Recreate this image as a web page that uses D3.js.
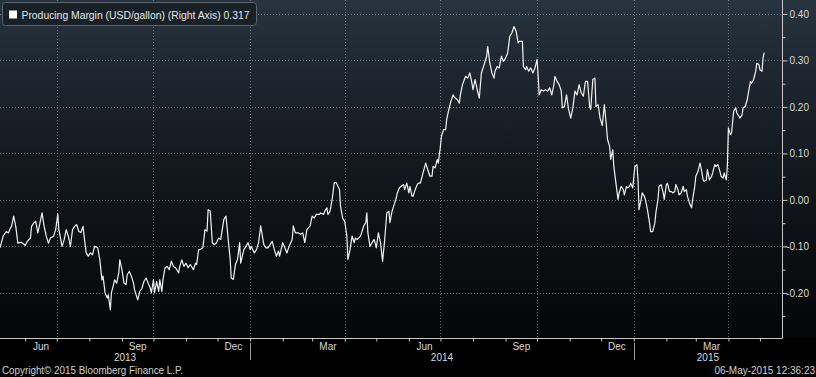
<!DOCTYPE html>
<html><head><meta charset="utf-8">
<script src="https://cdn.jsdelivr.net/npm/d3@7"></script>
<style>
html,body{margin:0;padding:0;background:#000;}
svg{display:block;}
text{font-family:"Liberation Sans",Arial,sans-serif;}
</style></head><body>
<svg id="chart" width="816" height="377"></svg>
<script>
// ---------- DATA ----------
const seriesName = "Producing Margin (USD/gallon) (Right Axis)";
const lastValueLabel = "0.317";
const copyrightText = "Copyright\u00A9 2015 Bloomberg Finance L.P.";
const stampText = "06-May-2015 12:36:23";
const startDate = "2013-05-08";          // day offsets below count from this date
const domainStart = "2013-05-08";
const domainEnd = "2015-05-22";

// [day offset from startDate, value USD/gallon]
const margin2013 = [[0,-0.103],[3,-0.078],[6,-0.068],[8,-0.071],[10,-0.060],[11,-0.057],[13,-0.035],[15,-0.057],[17,-0.093],[20,-0.091],[22,-0.094],[24,-0.098],[26,-0.089],[29,-0.082],[30,-0.057],[32,-0.050],[34,-0.046],[36,-0.071],[38,-0.050],[40,-0.028],[42,-0.057],[44,-0.078],[46,-0.093],[48,-0.082],[51,-0.078],[53,-0.064],[55,-0.030],[56,-0.064],[59,-0.100],[61,-0.086],[63,-0.064],[65,-0.078],[67,-0.100],[69,-0.064],[71,-0.057],[73,-0.053],[75,-0.068],[77,-0.070],[79,-0.057],[80,-0.078],[82,-0.114],[84,-0.121],[86,-0.114],[88,-0.118],[90,-0.100],[93,-0.103],[95,-0.129],[97,-0.172],[98,-0.164],[100,-0.200],[102,-0.211],[103,-0.204],[105,-0.236],[106,-0.200],[108,-0.182],[109,-0.172],[111,-0.179],[113,-0.157],[114,-0.129],[116,-0.150],[118,-0.179],[120,-0.182],[121,-0.161],[123,-0.154],[125,-0.164],[127,-0.179],[128,-0.193],[131,-0.215],[133,-0.197],[135,-0.190],[137,-0.175],[139,-0.168],[141,-0.179],[143,-0.190],[144,-0.200],[146,-0.172],[147,-0.200],[149,-0.175],[151,-0.197],[152,-0.172],[154,-0.197],[155,-0.172],[157,-0.146],[159,-0.143],[161,-0.150],[163,-0.132],[165,-0.143],[167,-0.146],[170,-0.157],[171,-0.143],[173,-0.129],[175,-0.143],[177,-0.136],[179,-0.146],[181,-0.139],[184,-0.150],[186,-0.136],[187,-0.139],[189,-0.107]];
const margin2014H1 = [[190,-0.107],[193,-0.103],[195,-0.064],[197,-0.067],[198,-0.021],[200,-0.024],[202,-0.092],[204,-0.096],[206,-0.092],[208,-0.082],[210,-0.085],[213,-0.042],[215,-0.035],[217,-0.082],[219,-0.128],[220,-0.168],[222,-0.171],[224,-0.139],[226,-0.128],[228,-0.092],[229,-0.136],[232,-0.107],[234,-0.100],[236,-0.092],[238,-0.107],[239,-0.100],[242,-0.114],[244,-0.107],[246,-0.092],[248,-0.056],[251,-0.096],[253,-0.103],[255,-0.103],[257,-0.096],[259,-0.089],[261,-0.107],[263,-0.121],[265,-0.110],[266,-0.121],[269,-0.092],[271,-0.103],[273,-0.114],[275,-0.100],[278,-0.085],[279,-0.056],[281,-0.071],[284,-0.071],[286,-0.074],[288,-0.071],[290,-0.092],[292,-0.064],[295,-0.056],[297,-0.035],[299,-0.039],[301,-0.031],[304,-0.031],[305,-0.028],[308,-0.031],[309,-0.024],[311,-0.017],[312,-0.031],[314,-0.024],[316,0.001],[318,0.037],[320,0.037],[323,0.022],[324,-0.014],[326,-0.039],[328,-0.046],[330,-0.078],[331,-0.128],[333,-0.107],[335,-0.078],[337,-0.092],[338,-0.082],[340,-0.085],[343,-0.078],[344,-0.071],[346,-0.056],[348,-0.049],[349,-0.028],[350,-0.071],[352,-0.100],[354,-0.092],[356,-0.085],[358,-0.103],[360,-0.071],[362,-0.092],[364,-0.132],[366,-0.085],[368,-0.028],[370,-0.024],[371,-0.049],[373,-0.024],[375,-0.010],[377,0.004],[378,0.015],[380,0.026]];
const margin2014H2 = [[384,0.033],[385,0.022],[387,0.036],[389,0.015],[390,0.029],[392,0.008],[393,0.008],[395,0.022],[397,0.033],[398,0.036],[400,0.036],[402,0.054],[405,0.079],[407,0.065],[409,0.051],[411,0.051],[412,0.072],[414,0.069],[416,0.087],[417,0.079],[419,0.115],[420,0.137],[422,0.151],[424,0.151],[425,0.173],[427,0.194],[429,0.212],[431,0.226],[433,0.219],[435,0.216],[437,0.208],[438,0.226],[440,0.248],[443,0.266],[445,0.262],[447,0.273],[449,0.251],[450,0.237],[452,0.259],[454,0.237],[456,0.219],[458,0.273],[461,0.294],[463,0.309],[464,0.330],[466,0.294],[468,0.273],[470,0.262],[471,0.277],[473,0.287],[475,0.284],[477,0.309],[479,0.298],[481,0.305],[483,0.316],[485,0.352],[487,0.359],[489,0.373],[491,0.363],[493,0.338],[494,0.341],[497,0.341],[498,0.287],[500,0.280],[501,0.287],[503,0.277],[505,0.284],[507,0.273],[509,0.284],[511,0.302],[512,0.266],[513,0.226],[515,0.237],[517,0.234],[519,0.237],[521,0.234],[523,0.241],[525,0.226],[527,0.248],[528,0.266],[530,0.255],[532,0.248],[534,0.234],[535,0.198],[537,0.201],[539,0.226],[541,0.194],[543,0.176],[545,0.198],[547,0.234],[549,0.226],[551,0.248],[553,0.230],[555,0.223],[557,0.255],[559,0.255],[561,0.201],[562,0.194],[564,0.259],[566,0.262],[567,0.201],[569,0.205],[571,0.175]];
const margin2015 = [[573,0.160],[575,0.205],[577,0.158],[578,0.130],[580,0.115],[581,0.087],[583,0.108],[584,0.072],[586,0.036],[588,0.001],[589,0.015],[591,0.029],[593,0.022],[594,0.011],[596,0.029],[597,0.026],[599,0.029],[600,0.036],[602,0.026],[604,0.072],[606,0.076],[607,0.043],[608,-0.021],[610,0.001],[611,0.015],[613,0.008],[614,0.001],[616,-0.021],[618,-0.050],[619,-0.068],[621,-0.068],[623,-0.050],[624,-0.028],[626,0.001],[627,0.029],[629,0.033],[631,0.015],[632,0.001],[634,0.033],[635,0.036],[637,0.018],[639,0.018],[640,0.015],[642,0.018],[643,0.033],[645,0.022],[646,0.011],[648,0.015],[650,0.029],[651,0.018],[653,0.022],[654,0.008],[656,-0.007],[658,-0.017],[659,0.001],[661,0.029],[662,0.051],[664,0.061],[666,0.079],[667,0.069],[669,0.043],[670,0.040],[672,0.043],[673,0.065],[675,0.043],[677,0.051],[678,0.058],[680,0.076],[681,0.072],[683,0.076],[685,0.061],[686,0.051],[688,0.047],[689,0.058],[691,0.043],[692,0.072],[693,0.155],[695,0.140],[696,0.144],[698,0.191],[700,0.198],[701,0.187],[703,0.180],[704,0.176],[706,0.183],[707,0.198],[709,0.201],[711,0.216],[712,0.230],[714,0.255],[715,0.251],[717,0.259],[719,0.277],[720,0.294],[722,0.291],[723,0.280],[725,0.277],[726,0.305],[727,0.317]];

const yTicks = [0.40,0.30,0.20,0.10,0.00,-0.10,-0.20];
const yTickLabels = ["0.40","0.30","0.20","0.10","0.00","-0.10","-0.20"];
const yMinorTicks = [0.35,0.25,0.15,0.05,-0.05,-0.15,-0.25];
const yDomain = [-0.297, 0.43];
const monthLabels = [["2013-06-16","Jun"],["2013-09-16","Sep"],["2013-12-16","Dec"],["2014-03-16","Mar"],["2014-06-16","Jun"],["2014-09-16","Sep"],["2014-12-16","Dec"],["2015-03-16","Mar"]];
const yearLabels = [["2013",null,"2014-01-01"],["2014","2014-01-01","2015-01-01"],["2015","2015-01-01",null]];
const yearBreaks = ["2014-01-01","2015-01-01"];

// ---------- SETUP ----------
const parse = d3.timeParse("%Y-%m-%d");
const t0 = parse(startDate);
const data = [].concat(margin2013, margin2014H1, margin2014H2, margin2015)
  .map(([d, v]) => ({date: d3.timeDay.offset(t0, d), value: v}));

const W = 816, H = 377;
const plotR = 782, plotB = 338;
const svg = d3.select("#chart");

const x = d3.scaleTime().domain([parse(domainStart), parse(domainEnd)]).range([0, plotR]);
const y = d3.scaleLinear().domain(yDomain).range([plotB, 0]);

const defs = svg.append("defs");
const grad = defs.append("linearGradient").attr("id","bg").attr("x1",0).attr("y1",0).attr("x2",0).attr("y2",1);
grad.append("stop").attr("offset","0%").attr("stop-color","#27333f");
grad.append("stop").attr("offset","45%").attr("stop-color","#141a20");
grad.append("stop").attr("offset","100%").attr("stop-color","#040506");

svg.append("rect").attr("width",W).attr("height",H).attr("fill","#000");
svg.append("rect").attr("width",W).attr("height",plotB).attr("fill","url(#bg)");

// grid
const gridColor = "#8a9098";
svg.append("g").selectAll("line").data(yTicks).join("line")
  .attr("x1",0).attr("x2",plotR).attr("y1",d=>Math.round(y(d))+0.5).attr("y2",d=>Math.round(y(d))+0.5)
  .attr("stroke",gridColor).attr("stroke-width",1).attr("stroke-dasharray","1,2").attr("opacity",0.75);
const quarters = d3.timeMonth.every(3).range(parse("2013-06-01"), parse("2015-05-01"));
svg.append("g").selectAll("line").data(quarters).join("line")
  .attr("x1",d=>Math.round(x(d))+0.5).attr("x2",d=>Math.round(x(d))+0.5).attr("y1",0).attr("y2",plotB)
  .attr("stroke",gridColor).attr("stroke-width",1).attr("stroke-dasharray","1,2").attr("opacity",0.75);

// line
const line = d3.line().x(d=>x(d.date)).y(d=>y(d.value));
svg.append("path").datum(data).attr("d",line).attr("fill","none")
  .attr("stroke","#f2f2f2").attr("stroke-width",1.2).attr("stroke-linejoin","round");

// axes
const axisColor = "#c8c8c8";
const yAxis = d3.axisRight(y).tickValues(yTicks).tickSize(5).tickSizeOuter(0)
  .tickFormat((d,i)=>yTickLabels[i]);
const gy = svg.append("g").attr("transform",`translate(${plotR+0.5},0)`).call(yAxis);
gy.select(".domain").attr("stroke",axisColor).attr("d",`M0,0V${plotB}`);
gy.selectAll(".tick line").attr("stroke",axisColor);
gy.selectAll(".tick text").attr("x",26.5).attr("text-anchor","end").attr("fill","#d8d8d8")
  .style("font-size","10px").attr("dy","0.35em");
const gym = svg.append("g").attr("transform",`translate(${plotR+0.5},0)`)
  .call(d3.axisRight(y).tickValues(yMinorTicks).tickSize(3).tickFormat(""));
gym.select(".domain").remove();
gym.selectAll(".tick line").attr("stroke",axisColor);

const months = d3.timeMonth.range(parse("2013-06-01"), parse("2015-05-02"));
const gx = svg.append("g").attr("transform",`translate(0,${plotB+0.5})`)
  .call(d3.axisBottom(x).tickValues(months).tickSize(3).tickSizeOuter(0).tickFormat(""));
gx.select(".domain").attr("stroke",axisColor).attr("d",`M0,0H${plotR+0.5}`);
gx.selectAll(".tick line").attr("stroke",axisColor);

svg.append("g").selectAll("text").data(monthLabels).join("text")
  .attr("x",d=>x(parse(d[0]))).attr("y",350).attr("text-anchor","middle")
  .attr("fill","#d8d8d8").style("font-size","10px").text(d=>d[1]);
svg.append("g").selectAll("text").data(yearLabels).join("text")
  .attr("x",d=>{const a = d[1]? x(parse(d[1])) : 0; const b = d[2]? x(parse(d[2])) : plotR; return (a+b)/2;})
  .attr("y",361).attr("text-anchor","middle")
  .attr("fill","#d8d8d8").style("font-size","10px").text(d=>d[0]);
svg.append("g").selectAll("line").data(yearBreaks).join("line")
  .attr("x1",d=>Math.round(x(parse(d)))+0.5).attr("x2",d=>Math.round(x(parse(d)))+0.5)
  .attr("y1",343).attr("y2",360).attr("stroke","#9a9a9a");

// footer
svg.append("text").attr("x",2).attr("y",374).attr("fill","#d0d0d0").style("font-size","10px")
  .attr("textLength",181).attr("lengthAdjust","spacingAndGlyphs").text(copyrightText);
svg.append("text").attr("x",815).attr("y",374).attr("text-anchor","end").attr("fill","#d0d0d0")
  .style("font-size","10px").text(stampText);

// legend
const lg = svg.append("g");
lg.append("rect").attr("x",2.5).attr("y",2.5).attr("width",254).attr("height",23).attr("rx",3)
  .attr("fill","#182028").attr("stroke","#5c636b");
lg.append("rect").attr("x",9).attr("y",10.5).attr("width",8).attr("height",8).attr("fill","#ffffff");
lg.append("text").attr("x",21.5).attr("y",18.5).attr("fill","#e8e8e8").style("font-size","10.3px")
  .attr("textLength",228).attr("lengthAdjust","spacingAndGlyphs")
  .text(`${seriesName} ${lastValueLabel}`);
</script>
</body></html>
